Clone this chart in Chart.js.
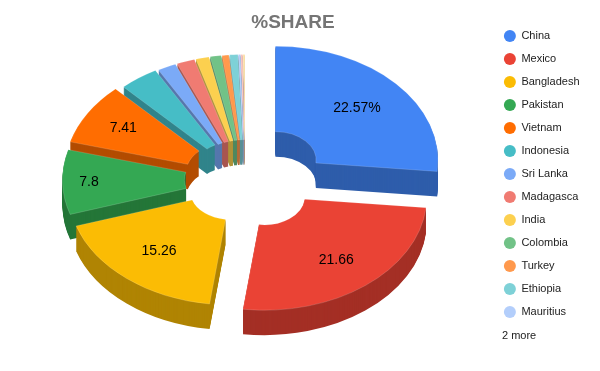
<!DOCTYPE html>
<html>
<head>
<meta charset="utf-8">
<style>
  html, body { margin: 0; padding: 0; background: #fff; }
  canvas { display: block; }
</style>
<script src="https://cdn.jsdelivr.net/npm/chart.js@4/dist/chart.umd.min.js"></script>
</head>
<body>
<canvas id="share" width="600" height="371"></canvas>
<script>
// values, the last two slices are not named in the legend
const countries = ['China', 'Mexico', 'Bangladesh', 'Pakistan', 'Vietnam', 'Indonesia', 'Sri Lanka', 'Madagasca', 'India', 'Colombia', 'Turkey', 'Ethiopia', 'Mauritius', 'Other 1', 'Other 2'];
const shares = [22.57, 21.66, 15.26, 7.8, 7.41, 3.3, 1.57, 1.52, 1.12, 0.93, 0.57, 0.69, 0.17, 0.17, 0.17];
const sliceLabels = ['22.57%', '21.66', '15.26', '7.8', '7.41'];
const topColors = ['#4285f4', '#ea4335', '#fbbc04', '#34a853', '#ff6d01', '#46bdc6', '#7baaf7', '#f07b72', '#fcd04f', '#71c287', '#ff994d', '#7ed1d7', '#b3cefb', '#f7c1bb', '#fde1a8'];
const sideColors = ['#2e5dab', '#a42f25', '#b08403', '#247638', '#b34c01', '#31848b', '#5677ad', '#a85650', '#b09237', '#4f885f', '#b36b36', '#588f96', '#7d90b0', '#ad8783', '#b19e76'];

const legendRows = 13;
const flatten = 0.7;
const depth = 25;
const centerX = 245;
const centerY = 179.4;
const sliceOffsets = [41, 31, 22, 20, 21, 17, 16, 16, 16, 16, 16, 16, 16, 16, 16];
const labelRadii = [110, 116, 112, 136, 121];

function sliceOrigin(arc, i) {
    const mid = (arc.startAngle + arc.endAngle) / 2;
    return {
        x: centerX + Math.cos(mid) * sliceOffsets[i],
        y: centerY + Math.sin(mid) * sliceOffsets[i] * flatten,
        mid: mid
    };
}

function drawArcAt(ctx, arc, i, drop, style) {
    const o = sliceOrigin(arc, i);
    const saved = arc.options;
    arc.options = Object.assign({}, saved, style);
    ctx.save();
    ctx.translate(o.x, o.y + drop);
    ctx.scale(1, flatten);
    ctx.translate(-arc.x, -arc.y);
    arc.draw(ctx);
    ctx.restore();
    arc.options = saved;
}

const pie3d = {
    id: 'pie3d',
    beforeDatasetsDraw(chart) {
        const ctx = chart.ctx;
        const arcs = chart.getDatasetMeta(0).data;

        // back slices first so the near ones cover them
        const order = arcs.map((arc, i) => i).sort((a, b) => {
            return sliceOrigin(arcs[a], a).y - sliceOrigin(arcs[b], b).y;
        });
        order.forEach(i => {
            for (let d = depth; d > 0; d--) {
                drawArcAt(ctx, arcs[i], i, d, { backgroundColor: sideColors[i] });
            }
            drawArcAt(ctx, arcs[i], i, 0, {
                backgroundColor: topColors[i],
                borderColor: 'rgba(255,255,255,0.3)',
                borderWidth: 0.6
            });
        });

        ctx.save();
        ctx.font = '14px "Liberation Sans", Arial, sans-serif';
        ctx.fillStyle = '#000';
        ctx.textAlign = 'center';
        ctx.textBaseline = 'middle';
        sliceLabels.forEach((text, i) => {
            const o = sliceOrigin(arcs[i], i);
            ctx.fillText(text,
                o.x + Math.cos(o.mid) * labelRadii[i],
                o.y + Math.sin(o.mid) * labelRadii[i] * flatten);
        });
        ctx.font = '11px "Liberation Sans", Arial, sans-serif';
        ctx.fillStyle = '#222';
        ctx.textAlign = 'left';
        ctx.fillText((countries.length - legendRows) + ' more', 502, 336);
        ctx.restore();
        return false;
    }
};

new Chart(document.getElementById('share'), {
    type: 'doughnut',
    data: {
        labels: countries,
        datasets: [{
            data: shares,
            backgroundColor: topColors,
            borderWidth: 0
        }]
    },
    options: {
        responsive: false,
        animation: false,
        radius: 162.6,
        cutout: '25%',
        layout: { padding: { left: -3.5, right: 10.5, top: 0, bottom: 23 } },
        plugins: {
            tooltip: { enabled: false },
            title: {
                display: true,
                text: '%SHARE',
                color: '#757575',
                font: { family: '"Liberation Sans", Arial, sans-serif', size: 19, weight: 'bold' },
                padding: { top: 11, bottom: 6 }
            },
            legend: {
                position: 'right',
                labels: {
                    color: '#222',
                    font: { family: '"Liberation Sans", Arial, sans-serif', size: 11 },
                    usePointStyle: true,
                    pointStyle: 'circle',
                    pointStyleWidth: 12,
                    boxHeight: 8.5,
                    padding: 12,
                    filter: item => item.index < legendRows
                }
            }
        }
    },
    plugins: [pie3d]
});
</script>
</body>
</html>
